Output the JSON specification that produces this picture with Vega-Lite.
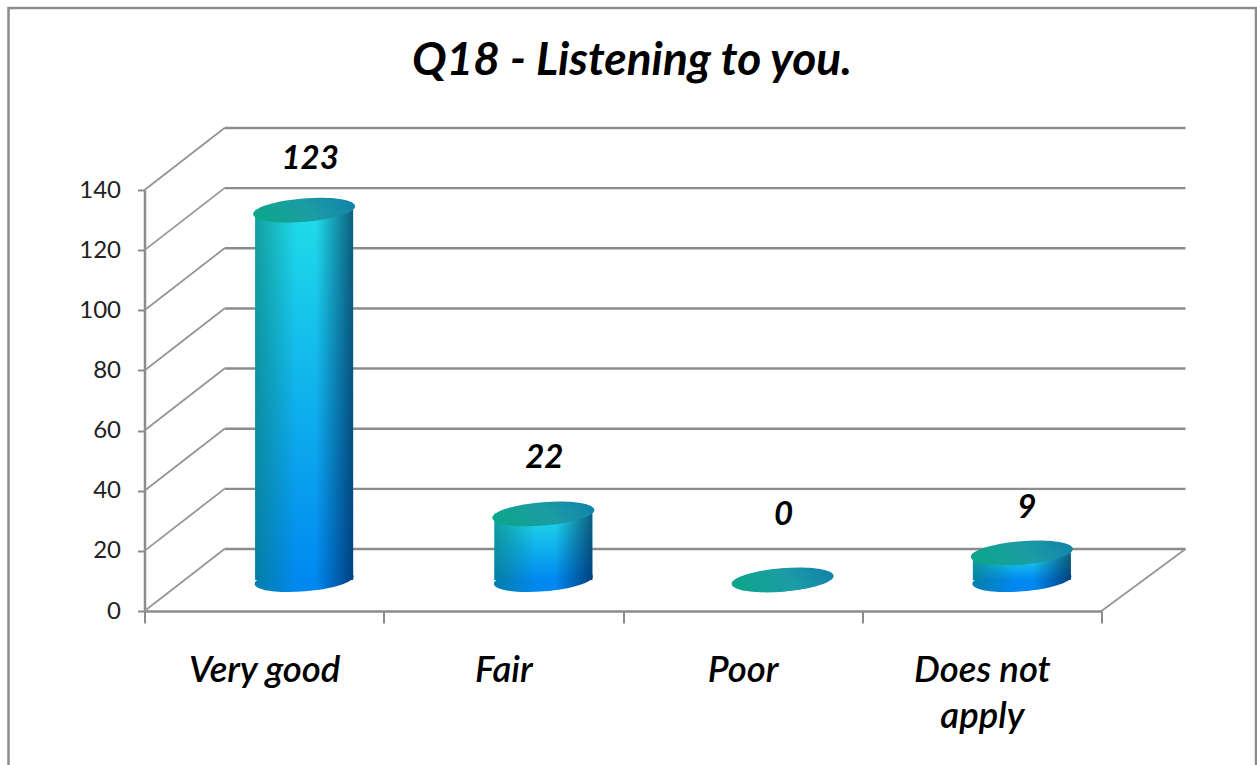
{
"$schema":"https://vega.github.io/schema/vega-lite/v6.json",
"width":957,"height":421,
"autosize":{"type":"none"},
"padding":{"left":144.5,"top":190,"right":155.5,"bottom":154},
"background":"white",
"config":{"view":{"stroke":null},"font":"Lato"},
"title":{"text":"Q18 - Listening to you.","font":"Lato","fontSize":46,"fontWeight":"bold","fontStyle":"italic","color":"#000000","anchor":"middle","dx":9,"offset":-78},
"datasets":{
"answers":[{"answer":"Very good","count":123},{"answer":"Fair","count":22},{"answer":"Poor","count":0},{"answer":"Does not apply","count":9}],
"levels":[{"level":0},{"level":20},{"level":40},{"level":60},{"level":80},{"level":100},{"level":120},{"level":140}]
},
"resolve":{"scale":{"x":"independent","y":"independent"},"axis":{"x":"independent","y":"independent"}},
"layer":[
{"layer":[
 {"data":{"values":[{"f":1}]},
  "mark":{"type":"rect","fillOpacity":0,"stroke":"#8c8c8c","strokeWidth":2.5,"xOffset":-136,"x2Offset":154.5,"yOffset":200,"y2Offset":-182,"clip":false},
  "encoding":{"x":{"datum":0,"type":"quantitative","scale":{"domain":[0,4]},"axis":null},"x2":{"datum":4},"y":{"datum":0,"type":"quantitative","scale":{"domain":[0,140]},"axis":null},"y2":{"datum":140}}},
 {"data":{"name":"levels"},
  "mark":{"type":"rule","color":"#8c8c8c","strokeWidth":2.4,"xOffset":80,"x2Offset":84,"yOffset":-62,"y2Offset":-62},
  "encoding":{"x":{"datum":0,"type":"quantitative","scale":{"domain":[0,4]},"axis":null},"x2":{"datum":4},"y":{"field":"level","type":"quantitative","scale":{"domain":[0,140]},"axis":null},"y2":{"field":"level"}}},
 {"data":{"name":"levels"},
  "mark":{"type":"rule","color":"#969696","strokeWidth":1.8,"x2Offset":80,"y2Offset":-62},
  "encoding":{"x":{"datum":0,"type":"quantitative","scale":{"domain":[0,4]},"axis":null},"x2":{"datum":0},"y":{"field":"level","type":"quantitative","scale":{"domain":[0,140]},"axis":null},"y2":{"field":"level"}}},
 {"data":{"values":[{"level":0}]},
  "mark":{"type":"rule","color":"#969696","strokeWidth":1.8,"x2Offset":84,"y2Offset":-62},
  "encoding":{"x":{"datum":4,"type":"quantitative","scale":{"domain":[0,4]},"axis":null},"x2":{"datum":4},"y":{"field":"level","type":"quantitative","scale":{"domain":[0,140]},"axis":null},"y2":{"field":"level"}}}
]},
{"data":{"name":"answers"},
 "encoding":{
  "x":{"field":"answer","type":"nominal","title":null,
   "scale":{"domain":["Very good","Fair","Poor","Does not apply"],"paddingInner":0,"paddingOuter":0},
   "axis":{"labelAngle":0,"tickBand":"extent","tickSize":12,"tickWidth":2,"tickColor":"#8c8c8c","domainColor":"#8c8c8c","domainWidth":2.5,"labelFont":"Lato","labelFontSize":36.5,"labelFontStyle":"italic","labelFontWeight":600,"labelColor":"#000000","labelPadding":29,"labelLineHeight":46,"labelExpr":"datum.label == 'Does not apply' ? ['Does not','apply'] : datum.label"}},
  "y":{"field":"count","type":"quantitative","title":null,
   "scale":{"domain":[0,140]},
   "axis":{"values":[0,20,40,60,80,100,120,140],"grid":false,"tickSize":7,"tickWidth":2,"tickColor":"#8c8c8c","domainColor":"#8c8c8c","domainWidth":2.5,"labelFont":"Lato","labelFontSize":24,"labelColor":"#222222","labelPadding":17}}
 },
 "layer":[
  {"mark":{"type":"point","shape":"M-1,0.08 A1.003,0.23 -4.6 1 1 1,-0.08 A1.003,0.23 -4.6 1 1 -1,0.08 Z","size":9801,"filled":true,"opacity":1,"strokeWidth":0,"xOffset":40,"yOffset":-31,
    "fill":{"gradient":"linear","x1":0,"x2":1,"y1":0,"y2":0,"stops":[{"offset":0,"color":"#047fae"},{"offset":0.21,"color":"#0383c9"},{"offset":0.42,"color":"#0088f0"},{"offset":0.62,"color":"#0088f0"},{"offset":1,"color":"#004080"}]}},
   "encoding":{"y":{"datum":0,"type":"quantitative"}}},
  {"mark":{"type":"bar","size":98,"xOffset":40,"yOffset":-31,"y2Offset":-31,"x2Offset":40,
    "fill":{"gradient":"linear","x1":0,"x2":0,"y1":0,"y2":1,"stops":[{"offset":0,"color":"#20dce8"},{"offset":1,"color":"#0088f0"}]}}},
  {"mark":{"type":"bar","size":98,"xOffset":40,"yOffset":-31,"y2Offset":-31,"x2Offset":40,
    "fill":{"gradient":"linear","x1":0,"x2":1,"y1":0,"y2":0,"stops":[{"offset":0,"color":"rgba(10,120,110,0.6)"},{"offset":0.42,"color":"rgba(10,120,110,0)"},{"offset":0.62,"color":"rgba(0,20,60,0)"},{"offset":1,"color":"rgba(0,20,60,0.62)"}]}}},
  {"mark":{"type":"point","shape":"M-1,0.08 A1.003,0.23 -4.6 1 1 1,-0.08 A1.003,0.23 -4.6 1 1 -1,0.08 Z","size":10404,"filled":true,"opacity":1,"strokeWidth":0,"xOffset":40,"yOffset":-31,
    "fill":{"gradient":"linear","x1":0,"x2":1,"y1":0.6,"y2":0.4,"stops":[{"offset":0,"color":"#0ca68a"},{"offset":0.55,"color":"#1c9ca4"},{"offset":1,"color":"#1285aa"}]}}},
  {"mark":{"type":"text","font":"Lato","fontSize":33,"fontStyle":"italic","fontWeight":"bold","color":"#000000","align":"center","baseline":"middle","xOffset":40,"yOffset":-31,
    "dx":{"expr":"datum.answer == 'Very good' ? 6 : datum.answer == 'Does not apply' ? 5 : 1"},
    "dy":{"expr":"datum.answer == 'Very good' ? -51.5 : datum.answer == 'Fair' ? -55.5 : datum.answer == 'Poor' ? -65 : -45"}},
   "encoding":{"text":{"field":"count","type":"quantitative"}}}
 ]}
]
}
